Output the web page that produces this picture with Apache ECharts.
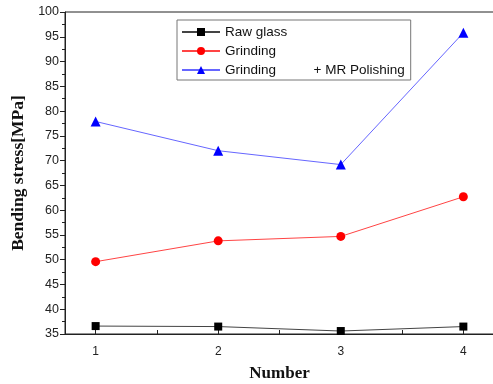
<!DOCTYPE html>
<html>
<head>
<meta charset="utf-8">
<title>Bending stress</title>
<script src="https://cdn.jsdelivr.net/npm/echarts@6/dist/echarts.min.js"></script>
<style>
  html, body { margin: 0; padding: 0; background: #fff; }
  #main { width: 493px; height: 384px; }
</style>
</head>
<body>
<div id="main"></div>
<script>
// data
var numbers = [1, 2, 3, 4];
var rawGlass = [36.6, 36.5, 35.6, 36.5];
var grinding = [49.6, 53.8, 54.7, 62.7];
var grindingMR = [77.9, 72.0, 69.2, 95.8];
var xTicks = [1, 1.5, 2, 2.5, 3, 3.5, 4];

function pairs(vals) {
    return numbers.map(function (n, i) { return [n, vals[i]]; });
}

var myChart = echarts.init(document.getElementById('main'));

var option = {
    backgroundColor: '#fff',
    animation: false,
    textStyle: { fontFamily: 'Liberation Sans, Arial' },
    grid: {
        left: 65, top: 12, right: -1, bottom: 50,
        outerBoundsMode: 'none',
        show: true, borderColor: '#222', borderWidth: 1
    },
    legend: {
        orient: 'vertical',
        left: 177, top: 20,
        padding: [5, 6, 3, 4],
        itemWidth: 38, itemHeight: 10, itemGap: 5,
        borderColor: '#777', borderWidth: 1,
        textStyle: { fontSize: 13.5, color: '#111' },
        data: ['Raw glass', 'Grinding', 'Grinding          + MR Polishing']
    },
    xAxis: {
        type: 'value',
        min: 0.75, max: 4.25,
        name: 'Number',
        nameLocation: 'middle',
        nameGap: 31,
        nameTextStyle: { fontFamily: 'Liberation Serif', fontWeight: 'bold', fontSize: 17, color: '#111' },
        axisLine: { lineStyle: { color: '#222' } },
        axisTick: { inside: true, length: 4, customValues: xTicks, lineStyle: { color: '#222' } },
        axisLabel: { customValues: numbers, fontSize: 12, color: '#222', margin: 12 },
        splitLine: { show: false }
    },
    yAxis: {
        type: 'value',
        min: 35, max: 100, interval: 5,
        name: 'Bending stress[MPa]',
        nameLocation: 'middle',
        nameGap: 33,
        nameTextStyle: { fontFamily: 'Liberation Serif', fontWeight: 'bold', fontSize: 17.5, color: '#111' },
        axisLine: { show: true, lineStyle: { color: '#222' } },
        axisTick: { length: 5, lineStyle: { color: '#222' } },
        minorTick: { show: true, splitNumber: 2, length: 3, lineStyle: { color: '#222' } },
        axisLabel: { fontSize: 12.5, color: '#222', margin: 6 },
        splitLine: { show: false }
    },
    series: [
        {
            name: 'Raw glass',
            type: 'line',
            data: pairs(rawGlass),
            symbol: 'rect', symbolSize: 8,
            itemStyle: { color: '#000' },
            lineStyle: { color: '#444', width: 1 }
        },
        {
            name: 'Grinding',
            type: 'line',
            data: pairs(grinding),
            symbol: 'circle', symbolSize: 9,
            itemStyle: { color: '#f00' },
            lineStyle: { color: '#f44', width: 1 }
        },
        {
            name: 'Grinding          + MR Polishing',
            type: 'line',
            data: pairs(grindingMR),
            symbol: 'triangle', symbolSize: 10,
            itemStyle: { color: '#00f' },
            lineStyle: { color: '#66f', width: 1 }
        }
    ]
};

myChart.setOption(option);
window.addEventListener('resize', function () {
    myChart.resize();
});
</script>
</body>
</html>
